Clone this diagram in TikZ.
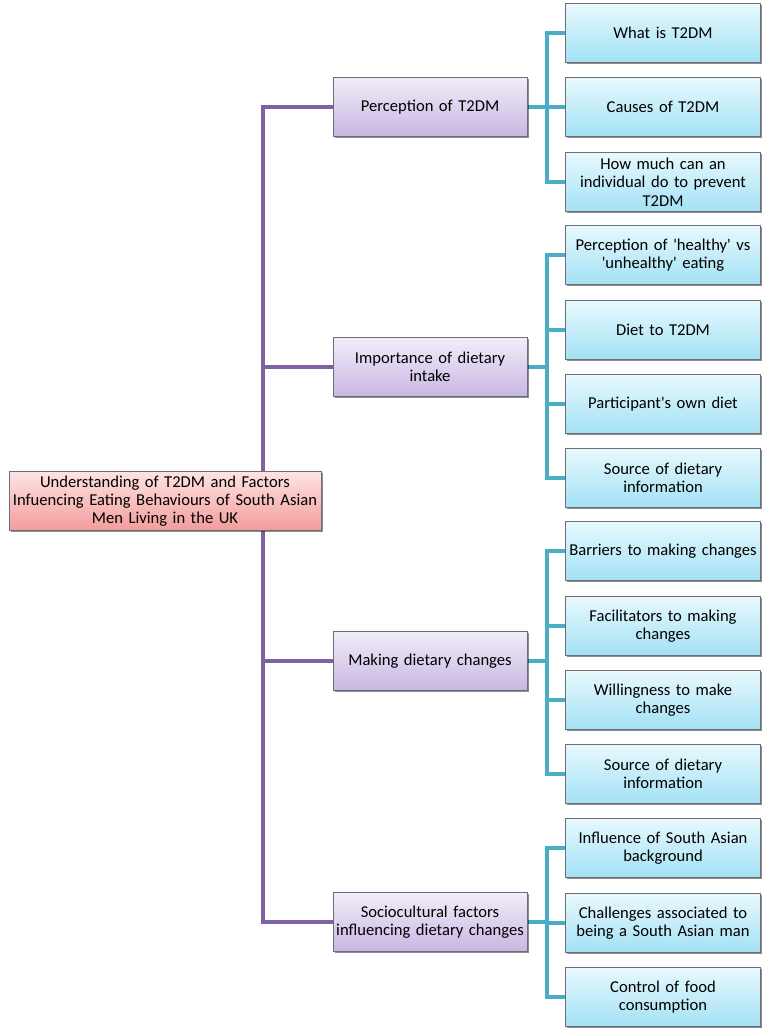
\documentclass[tikz,border=0pt]{standalone}
\usepackage{fontspec}
\setmainfont{Carlito}[Ligatures=TeXOff]
\usetikzlibrary{shadows,backgrounds}
\definecolor{purpline}{HTML}{7F62A1}
\definecolor{tealline}{HTML}{4BACC6}
\definecolor{purtop}{HTML}{F2EDF9}
\definecolor{purbot}{HTML}{C8B6E2}
\definecolor{blutop}{HTML}{E8F9FE}
\definecolor{blubot}{HTML}{A2E1F4}
\definecolor{redtop}{HTML}{FFE3E3}
\definecolor{redbot}{HTML}{F29C9C}
\definecolor{boxedge}{HTML}{6E6E78}
\begin{document}
\begin{tikzpicture}[x=1pt,y=-1pt,
  base/.style={draw=boxedge, line width=0.7pt, align=center,
    font=\fontsize{16.6}{18.3}\selectfont, minimum height=59pt, inner sep=1pt,
    drop shadow={shadow xshift=1.8pt,shadow yshift=-1.8pt,opacity=0.45,fill=black}},
  rootbox/.style={base, top color=redtop, bottom color=redbot, minimum width=312pt, text width=308pt},
  midbox/.style={base, top color=purtop, bottom color=purbot, minimum width=194pt, text width=190pt},
  leafbox/.style={base, top color=blutop, bottom color=blubot, minimum width=195pt, text width=191pt},
  purp/.style={draw=purpline, line width=4.6pt},
  teal/.style={draw=tealline, line width=4.6pt},
]
\useasboundingbox (0,0) rectangle (767,1036);

\node[rootbox] (root) at (165,501) {Understanding of T2DM and Factors\\Infuencing Eating Behaviours of South Asian\\Men Living in the UK};

\node[midbox] (p1) at (430,107) {Perception of T2DM};
\node[midbox] (p2) at (430,367) {Importance of dietary\\intake};
\node[midbox] (p3) at (430,661) {Making dietary changes};
\node[midbox] (p4) at (430,922) {Sociocultural factors\\influencing dietary changes};

\node[leafbox] (a1) at (663,33) {What is T2DM};
\node[leafbox] (a2) at (663,107) {Causes of T2DM};
\node[leafbox] (a3) at (663,182) {How much can an\\individual do to prevent\\T2DM};

\node[leafbox] (b1) at (663,255) {Perception of 'healthy' vs\\'unhealthy' eating};
\node[leafbox] (b2) at (663,330) {Diet to T2DM};
\node[leafbox] (b3) at (663,404) {Participant's own diet};
\node[leafbox] (b4) at (663,478) {Source of dietary\\information};

\node[leafbox] (c1) at (663,551) {Barriers to making changes};
\node[leafbox] (c2) at (663,626) {Facilitators to making\\changes};
\node[leafbox] (c3) at (663,700) {Willingness to make\\changes};
\node[leafbox] (c4) at (663,774) {Source of dietary\\information};

\node[leafbox] (d1) at (663,848) {Influence of South Asian\\background};
\node[leafbox] (d2) at (663,923) {Challenges associated to\\being a South Asian man};
\node[leafbox] (d3) at (663,997) {Control of food\\consumption};

\coordinate (ptr) at (263,0);
\coordinate (ttr) at (547,0);

\begin{pgfonlayer}{background}
  \fill[white] (0,0) rectangle (767,1036);
  % purple trunk
  \draw[purp] (p1.west) -- (p1.west -| ptr) -- (p4.west -| ptr) -- (p4.west);
  \draw[purp] (p2.west -| ptr) -- (p2.west);
  \draw[purp] (p3.west -| ptr) -- (p3.west);
  % group 1
  \draw[teal] (p1.east) -- (p1.east -| ttr);
  \draw[teal] (a1.west) -- (a1.west -| ttr) -- (a3.west -| ttr) -- (a3.west);
  \draw[teal] (a2.west -| ttr) -- (a2.west);
  % group 2
  \draw[teal] (p2.east) -- (p2.east -| ttr);
  \draw[teal] (b1.west) -- (b1.west -| ttr) -- (b4.west -| ttr) -- (b4.west);
  \draw[teal] (b2.west -| ttr) -- (b2.west);
  \draw[teal] (b3.west -| ttr) -- (b3.west);
  % group 3
  \draw[teal] (p3.east) -- (p3.east -| ttr);
  \draw[teal] (c1.west) -- (c1.west -| ttr) -- (c4.west -| ttr) -- (c4.west);
  \draw[teal] (c2.west -| ttr) -- (c2.west);
  \draw[teal] (c3.west -| ttr) -- (c3.west);
  % group 4
  \draw[teal] (p4.east) -- (p4.east -| ttr);
  \draw[teal] (d1.west) -- (d1.west -| ttr) -- (d3.west -| ttr) -- (d3.west);
  \draw[teal] (d2.west -| ttr) -- (d2.west);
\end{pgfonlayer}
\end{tikzpicture}
\end{document}
